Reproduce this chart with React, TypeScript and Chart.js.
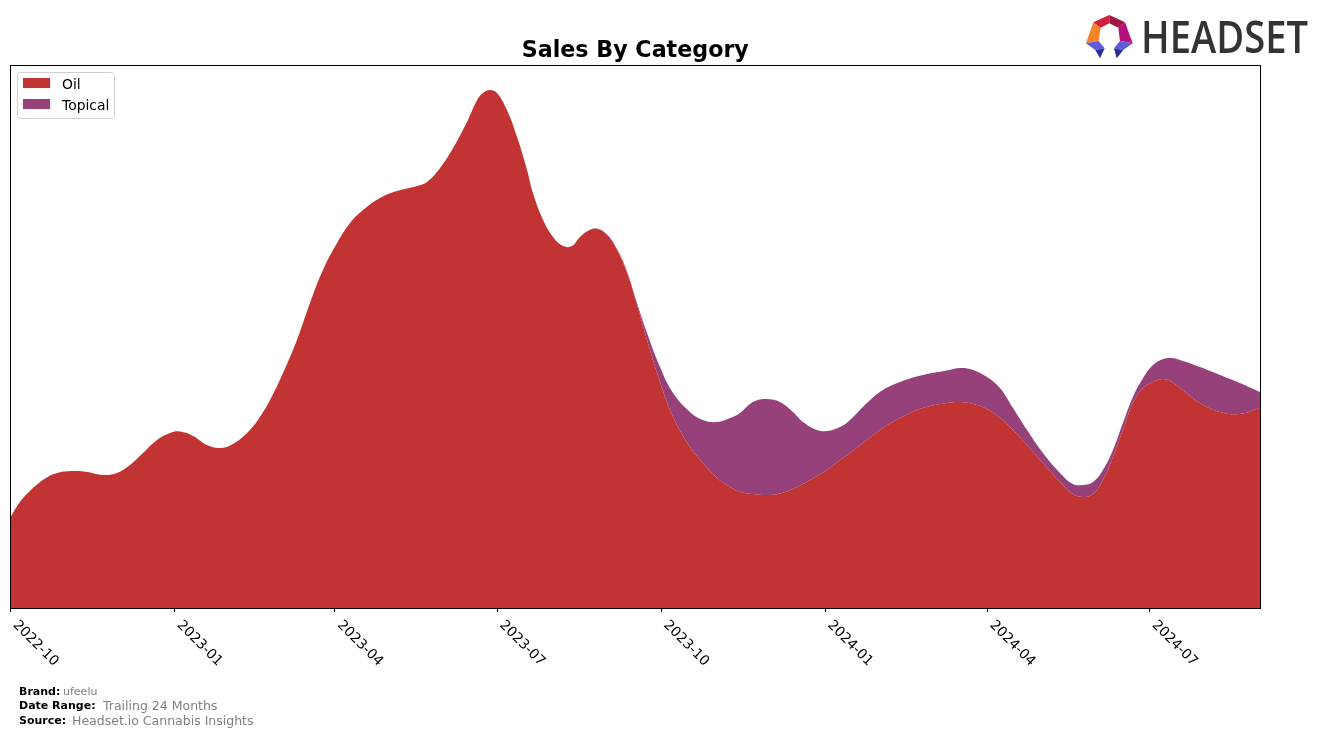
import React, { useEffect, useRef } from "react";
import { Chart, registerables } from "chart.js";

Chart.register(...registerables);

const FONT = '"DejaVu Sans", sans-serif';
const titleText = "Sales By Category";
const seriesNames = ["Oil", "Topical"];
const seriesColors = ["#c13433", "#97417b"];
const startDate = "2022-10-01";
const endDate = "2024-09-01";
const tickLabels = ["2022-10", "2023-01", "2023-04", "2023-07", "2023-10", "2024-01", "2024-04", "2024-07"];

const sampleDays = [
  0, 5.3, 10.9, 18.2, 26.1, 35.1, 42.9, 51.9, 59.7, 67,
  74.3, 82.2, 89.5, 95.1, 102.4, 110.2, 117.5, 124.8, 132.7, 138.8,
  145.6, 152.9, 160.7, 168, 175.3, 183.2, 190.5, 197.8, 207.3, 216.8,
  228.1, 233.7, 241, 248.3, 256.1, 261.8, 265.1, 269, 272.9, 278.5,
  284.2, 289.8, 293.1, 298.8, 304.4, 310, 315, 319.5, 324, 329,
  334.6, 340.3, 345.9, 351.5, 357.1, 364.4,
  371.7, 381.2, 388.5, 396.4, 403.7, 409.3, 416.5, 424.4, 431.7, 439,
  444.6, 452.4, 458.1, 465.4, 471, 480.5, 489.5, 499, 511.9, 525.4,
  532.7, 540, 547.8, 555.1, 562.4, 570.3, 579.2, 588.8, 596, 601.6,
  607.3, 612.9, 618.5, 624.1, 629.7, 635.4, 641, 646.6, 651.6, 656.1,
  667.3, 678.5, 689.7, 701,
];

const oilSales = [
  91, 106, 117, 128, 135, 137, 136, 133, 135, 143,
  155, 168, 175, 176.5, 172, 163, 160, 164, 175, 188,
  208, 235, 268, 305, 338, 365, 385, 398, 410, 417,
  422, 426, 440, 460, 486, 508, 515, 518, 515, 498,
  471, 438, 415, 388, 371, 362, 362, 371, 377, 379,
  373, 358, 335, 303, 268, 226,
  191, 161, 145, 130, 121, 116, 114, 113, 114.5, 119,
  124, 132, 138, 148, 155, 168, 180, 190, 200, 205,
  206, 204, 199, 190, 178, 163, 145, 126, 114, 111,
  114, 128, 151, 178, 205, 220, 226, 229, 226, 220,
  205, 196, 194, 200,
];

const topicalSales = [
  0, 0, 0, 0, 0, 0, 0, 0, 0, 0,
  0, 0, 0, 0, 0, 0, 0, 0, 0, 0,
  0, 0, 0, 0, 0, 0, 0, 0, 0, 0,
  0, 0, 0, 0, 0, 0, 0, 0, 0, 0,
  0, 0, 0, 0, 0, 0, 0, 0, 0.4, 0.5,
  0.7, 1, 1.5, 2, 7, 15,
  24, 35, 43, 56, 69, 79, 92, 96, 91.5, 77,
  62, 46, 39, 33, 33, 37, 38, 36, 33, 32.5,
  34, 34, 32, 30, 22, 15, 10, 9, 10, 12,
  12, 10, 7, 7, 6, 10, 17, 20, 24, 28,
  36, 37, 31, 16,
];

const footerRows = [
  { label: "Brand:", value: "ufeelu", top: 685, valueLeft: 63, valueSize: 11 },
  { label: "Date Range:", value: "Trailing 24 Months", top: 699, valueLeft: 103, valueSize: 12.5 },
  { label: "Source:", value: "Headset.io Cannabis Insights", top: 714, valueLeft: 72, valueSize: 12.5 },
];

const logoShapes = [
  { color: "#f58428", points: "70,52 92,68 86,108 48,115" },
  { color: "#d3203c", points: "70,52 118,30 118,55 92,68" },
  { color: "#9f1642", points: "118,30 165,52 145,68 118,55" },
  { color: "#b40f7c", points: "165,52 188,115 150,108 145,68" },
  { color: "#5d5bd8", points: "48,115 86,108 104,130 76,135" },
  { color: "#2b2c96", points: "76,135 104,130 90,160" },
  { color: "#5d5bd8", points: "188,115 150,108 132,130 160,135" },
  { color: "#2b2c96", points: "160,135 132,130 140,160" },
];

const dayOf = (d: string) => (Date.parse(d) - Date.parse(startDate)) / 864e5;

function swatch(color: string) {
  const c = document.createElement("canvas");
  c.width = 32;
  c.height = 14;
  const g = c.getContext("2d")!;
  g.fillStyle = color;
  g.fillRect(0, 0, 27, 10);
  return c;
}

const framePlugin = {
  id: "frame",
  afterLayout(chart: any) {
    if (chart.legend) {
      chart.legend.left = 16;
      chart.legend.top = 71;
    }
  },
  beforeDraw(chart: any) {
    const ctx = chart.ctx;
    ctx.save();
    ctx.beginPath();
    ctx.roundRect(17.5, 72.5, 97, 46, 3);
    ctx.fillStyle = "#ffffff";
    ctx.fill();
    ctx.strokeStyle = "#cfcfcf";
    ctx.lineWidth = 1;
    ctx.stroke();
    ctx.restore();
  },
  afterDatasetsDraw(chart: any) {
    const { ctx, chartArea: a, scales } = chart;
    ctx.save();
    ctx.strokeStyle = "#000000";
    ctx.lineWidth = 1;
    const left = Math.floor(a.left) + 0.5;
    const top = Math.floor(a.top) + 0.5;
    ctx.strokeRect(left, top, Math.floor(a.right) + 0.5 - left, Math.floor(a.bottom) + 0.5 - top);
    ctx.fillStyle = "#000000";
    ctx.font = `13.9px ${FONT}`;
    ctx.textAlign = "left";
    ctx.textBaseline = "middle";
    scales.x.ticks.forEach((t: any) => {
      ctx.save();
      ctx.translate(scales.x.getPixelForValue(t.value) + 4.5, a.bottom + 15);
      ctx.rotate(Math.PI / 4);
      ctx.fillText(t.label, 0, 0);
      ctx.restore();
    });
    ctx.restore();
  },
};

export default function App() {
  const ref = useRef<HTMLCanvasElement>(null);
  useEffect(() => {
    const chart = new Chart(ref.current!, {
      type: "line",
      data: {
        datasets: [oilSales, topicalSales].map((values, i) => ({
          label: seriesNames[i],
          data: values.map((y, k) => ({ x: sampleDays[k], y })),
          backgroundColor: seriesColors[i],
          borderWidth: 0,
          pointRadius: 0,
          tension: 0.4,
          fill: i === 0 ? "origin" : "-1",
        })),
      },
      options: {
        responsive: false,
        animation: false,
        devicePixelRatio: 1,
        layout: { padding: { left: 10.5, right: 64, top: 0, bottom: 0 } },
        scales: {
          x: {
            type: "linear",
            min: 0,
            max: dayOf(endDate),
            afterBuildTicks: (scale: any) => {
              scale.ticks = tickLabels.map((l) => ({ value: dayOf(l + "-01") }));
            },
            afterFit: (scale: any) => {
              scale.height = 130;
            },
            grid: { drawOnChartArea: false, tickLength: 4, tickColor: "#000000", tickWidth: 1 },
            border: { display: false },
            ticks: {
              display: false,
              autoSkip: false,
              callback: (_v: any, i: number) => tickLabels[i],
            },
          },
          y: { display: false, stacked: true, min: 0, max: 543 },
        },
        plugins: {
          title: {
            display: true,
            text: titleText,
            color: "#000000",
            font: { family: FONT, size: 22.2, weight: "bold", lineHeight: 1.2 },
            padding: { top: 38, bottom: 0.4 },
          },
          legend: {
            position: "chartArea",
            align: "start",
            labels: {
              font: { family: FONT, size: 13.9 },
              color: "#000000",
              padding: 7.1,
              boxHeight: 10,
              usePointStyle: true,
              pointStyleWidth: 32,
              generateLabels: () =>
                seriesNames.map((text, i) => ({
                  text,
                  fillStyle: seriesColors[i],
                  strokeStyle: seriesColors[i],
                  lineWidth: 0,
                  fontColor: "#000000",
                  pointStyle: swatch(seriesColors[i]),
                  datasetIndex: i,
                })),
            },
          },
          tooltip: { enabled: false },
        },
      } as any,
      plugins: [framePlugin],
    });
    return () => chart.destroy();
  }, []);

  return (
    <div style={{ position: "absolute", left: 0, top: 0, width: 1324, height: 738, overflow: "hidden", background: "#fff" }}>
      <canvas ref={ref} width={1324} height={738} style={{ display: "block" }} />
      <svg
        viewBox="0 0 762 195"
        width={254}
        height={65}
        style={{ position: "absolute", left: 1070, top: 5 }}
      >
        {logoShapes.map((s, i) => (
          <polygon key={i} points={s.points} fill={s.color} />
        ))}
        <text
          x={213}
          y={145}
          textLength={501}
          lengthAdjust="spacingAndGlyphs"
          fontFamily='"Open Sans", sans-serif'
          fontWeight={600}
          fontSize={136}
          fill="#333333"
        >
          HEADSET
        </text>
      </svg>
      {footerRows.map((r) => (
        <React.Fragment key={r.label}>
          <div style={{ position: "absolute", left: 19, top: r.top, font: `bold 11px/13px ${FONT}`, color: "#000", whiteSpace: "nowrap" }}>
            {r.label}
          </div>
          <div
            style={{
              position: "absolute",
              left: r.valueLeft,
              top: r.top + (r.valueSize > 11 ? -1 : 0),
              font: `${r.valueSize}px/${r.valueSize > 11 ? 15 : 13}px ${FONT}`,
              color: "#808080",
              whiteSpace: "nowrap",
            }}
          >
            {r.value}
          </div>
        </React.Fragment>
      ))}
    </div>
  );
}
